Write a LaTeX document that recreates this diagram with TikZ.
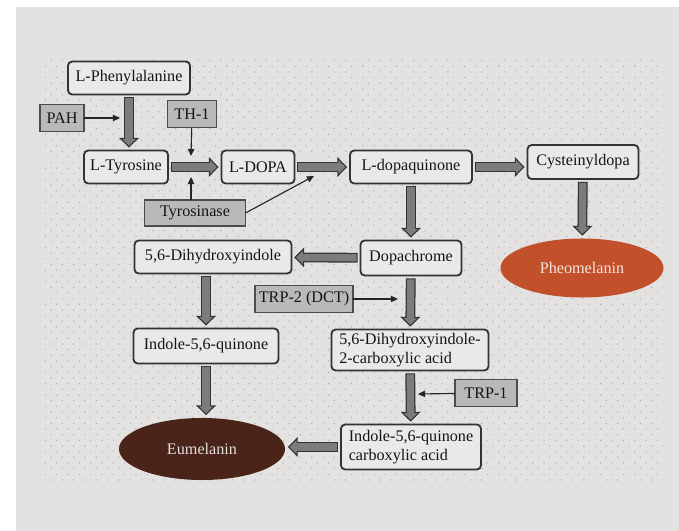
\documentclass[tikz,border=0pt]{standalone}
\usepackage{fontspec}
\setmainfont{Liberation Serif}
\usepackage{tikz}
\usetikzlibrary{arrows.meta,patterns.meta,shapes.geometric}

\definecolor{bggray}{HTML}{E3E2E0}
\definecolor{boxfill}{HTML}{EAE9E7}
\definecolor{boxline}{HTML}{333333}
\definecolor{enzfill}{HTML}{B9B9B9}
\definecolor{fatfill}{HTML}{7C7C7C}
\definecolor{pheo}{HTML}{C2502B}
\definecolor{eume}{HTML}{4A2419}

\begin{document}
\begin{tikzpicture}[x=0.025cm, y=-0.025cm,
  font=\fontsize{11.5}{14}\selectfont,
  compound/.style={draw=boxline, line width=1.3pt, rounded corners=3pt, fill=boxfill,
    text=black!92, inner sep=1pt, outer sep=2pt},
  enzyme/.style={draw=black!70, line width=0.8pt, fill=enzfill, text=black!92,
    inner sep=1pt, outer sep=0pt},
  pigment/.style={ellipse, inner sep=0pt, outer sep=2pt},
  bigarrow/.style={draw=black!80, line width=7pt,
    -{Triangle[length=7pt, width=14pt, line width=0.8pt, fill=fatfill]},
    postaction={draw=fatfill, line width=5.2pt, shorten >=6pt, shorten <=0.8pt, -}},
  smallarrow/.style={draw=black!85, line width=0.8pt, -{Triangle[length=5pt, width=4.5pt]}}]

  % background
  \fill [white] (0, 0) rectangle (679, 531);
  \fill [bggray] (16, 7) rectangle (679, 531);
  \fill [pattern={Dots[radius=0.55pt, distance=5.7pt, angle=45]}, pattern color=black!30]
    (40, 60) rectangle (663, 481);

  \node [compound, minimum width=3.05cm, minimum height=0.825cm] (a) at (129, 78) {L-Phenylalanine};
  \node [enzyme, minimum width=1.1cm, minimum height=0.675cm] (b) at (62, 118) {PAH};
  \node [enzyme, minimum width=1.225cm, minimum height=0.675cm] (c) at (192, 114) {TH-1};
  \node [compound, minimum width=2.1cm, minimum height=0.825cm] (d) at (126, 167) {L-Tyrosine};
  \node [compound, minimum width=1.825cm, minimum height=0.825cm] (e) at (258, 167) {L-DOPA};
  \node [enzyme, minimum width=2.525cm, minimum height=0.65cm] (f) at (195, 213) {Tyrosinase};
  \node [compound, minimum width=3.05cm, minimum height=0.825cm] (g) at (411, 167) {L-dopaquinone};
  \node [compound, minimum width=2.775cm, minimum height=0.85cm] (h) at (583, 162) {Cysteinyldopa};
  \node [pigment, fill=pheo, text=pheo!15, minimum width=4.075cm, minimum height=1.475cm] (i) at (582, 268) {Pheomelanin};
  \node [compound, minimum width=2.525cm, minimum height=0.875cm] (j) at (411, 258) {Dopachrome};
  \node [compound, minimum width=3.925cm, minimum height=0.825cm] (k) at (213, 257) {5,6-Dihydroxyindole};
  \node [enzyme, minimum width=2.45cm, minimum height=0.675cm] (l) at (304, 299) {TRP-2 (DCT)};
  \node [compound, minimum width=3.925cm, minimum height=1.025cm, align=left] (m) at (410, 350) {5,6-Dihydroxyindole-\\2-carboxylic acid};
  \node [compound, minimum width=3.625cm, minimum height=0.875cm] (n) at (206, 346) {Indole-5,6-quinone};
  \node [enzyme, minimum width=1.55cm, minimum height=0.675cm] (o) at (486, 393) {TRP-1};
  \node [compound, minimum width=3.5cm, minimum height=1.125cm, align=left] (p) at (411, 447) {Indole-5,6-quinone\\carboxylic acid};
  \node [pigment, fill=eume, text=white!85!eume, minimum width=4.15cm, minimum height=1.55cm] (q) at (202, 449) {Eumelanin};

  \coordinate (r) at (120, 118);
  \coordinate (s) at (191, 156);
  \coordinate (t) at (191, 177);
  \coordinate (u) at (314, 176);
  \coordinate (v) at (398, 299);
  \coordinate (w) at (418, 394);

  \draw [bigarrow] (a.south) -- (a.south |- d.north);
  \draw [bigarrow] (d) to (e);
  \draw [bigarrow] (e) to (g);
  \draw [bigarrow] (g.east) -- (g.east -| h.west);
  \draw [bigarrow] (h) to (i);
  \draw [bigarrow] (g) to (j);
  \draw [bigarrow] (j) to (k);
  \draw [bigarrow] (j) to (m);
  \draw [bigarrow] (n.north |- k.south) -- (n.north);
  \draw [bigarrow] (n.south) -- (n.south |- q.north);
  \draw [bigarrow] (m) to (p);
  \draw [bigarrow] (p.west) -- (p.west -| q.east);

  \draw [smallarrow] (b) to (r);
  \draw [smallarrow] (c) to (s);
  \draw [smallarrow] (f.north -| t) to (t);
  \draw [smallarrow] (f.east) to (u);
  \draw [smallarrow] (l) to (v);
  \draw [smallarrow] (o) to (w);

\end{tikzpicture}
\end{document}
